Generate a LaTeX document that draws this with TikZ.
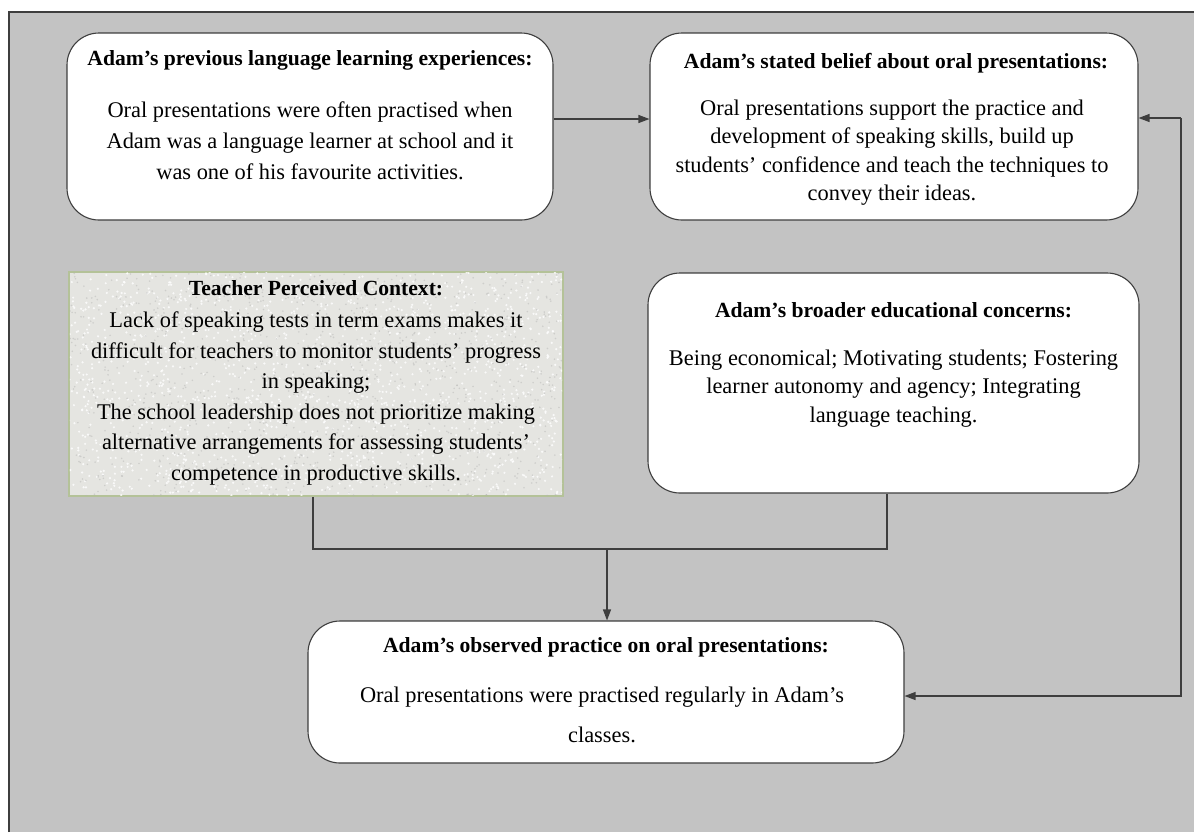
\documentclass[tikz,border=0pt]{standalone}
\usepackage{fontspec}
\setmainfont{Liberation Serif}
\usetikzlibrary{arrows.meta}

\definecolor{panel}{HTML}{C3C3C3}
\definecolor{edge}{HTML}{3E3E3E}
\definecolor{paper}{HTML}{E5E5E1}
\definecolor{moss}{HTML}{B4C298}

\tikzset{
  frame/.style={draw=edge, line width=0.55pt},
  card/.style={draw=edge, fill=white, line width=0.55pt, rounded corners=16pt,
               inner sep=0pt},
  heading/.style={inner sep=0pt, font=\bfseries\fontsize{10.8}{13}\selectfont},
  body/.style={inner sep=0pt, align=center},
  link/.style={draw=edge, line width=0.6pt},
  arr/.style={link, -{Triangle[length=5.5pt,width=4pt]}},
}

\begin{document}
\begin{tikzpicture}[x=0.5pt, y=-0.5pt]
\useasboundingbox (0,0) rectangle (1194,832);

% grey panel, ruled on the left and top
\fill[panel] (9,12) rectangle (1194,832);
\draw[frame] (9,832) -- (9,12) -- (1194,12);

% boxes
\node[card, minimum width=243pt, minimum height=93.5pt] (prev) at (310,126.5) {};
\node[card, minimum width=244pt, minimum height=93.5pt] (belief) at (894,126.5) {};
\node[card, minimum width=245.5pt, minimum height=110pt] (concern) at (893.5,383) {};
\node[card, minimum width=298pt, minimum height=71pt] (obs) at (606,692) {};

% context panel with speckled paper texture
\node[draw=moss, fill=paper, line width=0.8pt, inner sep=0pt,
      minimum width=247pt, minimum height=112pt] (ctx) at (316,384) {};
\begin{scope}
  \clip (69.8,272.8) rectangle (562.2,495.2);
  \pgfmathsetseed{4217}
  \foreach \i in {1,...,1600} {
    \fill[white, opacity=0.8] ({69+494*rnd},{272+224*rnd}) circle (0.6pt);
  }
  \foreach \i in {1,...,1100} {
    \fill[black!30, opacity=0.45] ({69+494*rnd},{272+224*rnd}) circle (0.45pt);
  }
\end{scope}

% texts
\node[heading] (prevT) at (310,60) {Adam's previous language learning experiences:};
\node[body, font=\fontsize{11.2}{15.5}\selectfont] (prevB) at (310,141)
  {Oral presentations were often practised when\\
   Adam was a language learner at school and it\\
   was one of his favourite activities.};

\node[heading] (beliefT) at (896,63) {Adam's stated belief about oral presentations:};
\node[body, font=\fontsize{11.2}{14.25}\selectfont] (beliefB) at (892,152.5)
  {Oral presentations support the practice and\\
   development of speaking skills, build up\\
   students' confidence and teach the techniques to\\
   convey their ideas.};

\node[heading] (ctxT) at (316,288) {Teacher Perceived Context:};
\node[body, font=\fontsize{11.2}{15.3}\selectfont] (ctxB) at (316,398.5)
  {Lack of speaking tests in term exams makes it\\
   difficult for teachers to monitor students' progress\\
   in speaking;\\
   The school leadership does not prioritize making\\
   alternative arrangements for assessing students'\\
   competence in productive skills.};

\node[heading] (concernT) at (893.5,310) {Adam's broader educational concerns:};
\node[body, font=\fontsize{11.2}{14.25}\selectfont] (concernB) at (893.5,388.5)
  {Being economical; Motivating students; Fostering\\
   learner autonomy and agency; Integrating\\
   language teaching.};

\node[heading] (obsT) at (606,647) {Adam's observed practice on oral presentations:};
\node[body, font=\fontsize{11.2}{20}\selectfont] (obsB) at (602,715)
  {Oral presentations were practised regularly in Adam's\\
   classes.};

% connectors
\coordinate (join) at (607,549);
\coordinate (loop) at (1181,0);
\coordinate (beliefIn) at ([yshift=4.25pt]belief.east);
\coordinate (obsIn) at ([yshift=-2pt]obs.east);

\draw[arr] ([yshift=3.75pt]prev.east) -- ([yshift=3.75pt]belief.west);
\draw[link] ([xshift=-1.5pt]ctx.south) |- (join) -| ([xshift=-3.25pt]concern.south);
\draw[arr] (join) -- (join |- obs.north);
\draw[arr] (beliefIn -| loop) |- (obsIn);
\draw[arr] (beliefIn -| loop) -- (beliefIn);
\end{tikzpicture}
\end{document}
